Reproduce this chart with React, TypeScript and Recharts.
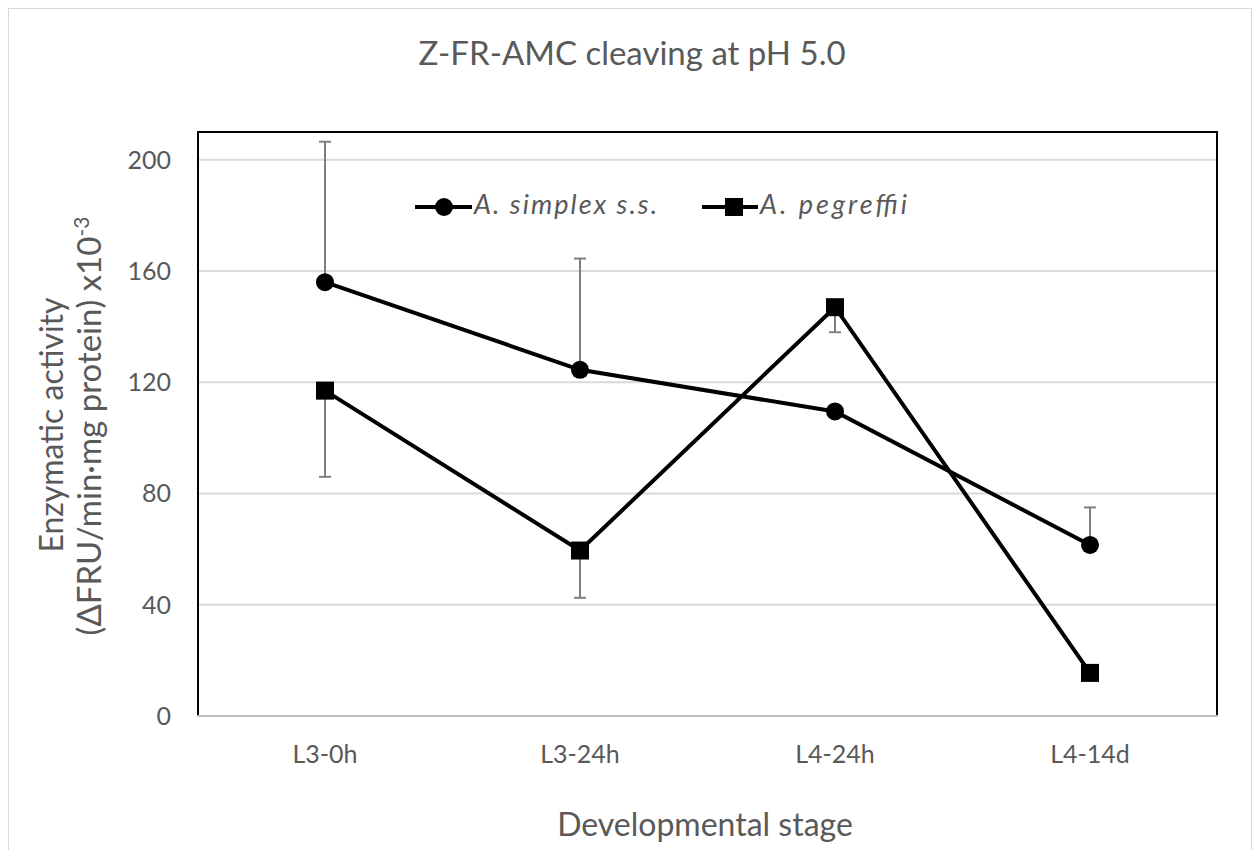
import { CartesianGrid, ErrorBar, Line, LineChart, XAxis, YAxis } from "recharts";

const stages = ["L3-0h", "L3-24h", "L4-24h", "L4-14d"];
const simplex = [156, 124.5, 109.5, 61.5];
const simplexErrUp = [50.5, 40, 0, 13.5];
const pegreffii = [117, 59.5, 147, 15.5];
const pegreffiiErrDown = [31, 17, 9, 0];
const yTicks = [0, 40, 80, 120, 160, 200];

const data = stages.map((stage, i) => ({
  stage,
  simplex: simplex[i],
  simplexErr: [0, simplexErrUp[i]],
  pegreffii: pegreffii[i],
  pegreffiiErr: [pegreffiiErrDown[i], 0],
}));

const FONT = "Lato, 'Open Sans', sans-serif";
const GRAY = "#595959";

function CircleDot(props: any) {
  const { cx, cy } = props;
  return <circle cx={cx} cy={cy} r={9} fill="#000" />;
}

function SquareDot(props: any) {
  const { cx, cy } = props;
  return <rect x={cx - 9} y={cy - 9} width={18} height={18} fill="#000" />;
}

// title, axis titles and legend drawn on top of the chart
function Overlay() {
  return (
    <svg
      width={1256}
      height={850}
      style={{ position: "absolute", left: 0, top: 0, pointerEvents: "none" }}
      fontFamily={FONT}
    >
      <rect x={8.5} y={8.5} width={1243} height={860} fill="none" stroke="#d9d9d9" />
      <rect x={198} y={132} width={1019} height={584} fill="none" stroke="#000" strokeWidth={2} />
      <line x1={197} y1={716} x2={1218} y2={716} stroke="#bfbfbf" strokeWidth={2} />
      <text x={632} y={65} textAnchor="middle" fontSize={33} fill={GRAY}>
        Z-FR-AMC cleaving at pH 5.0
      </text>
      <text x={705} y={836} textAnchor="middle" fontSize={32} fill={GRAY}>
        Developmental stage
      </text>
      <text transform="translate(63,425) rotate(-90)" textAnchor="middle" fontSize={32} fill={GRAY}>
        Enzymatic activity
      </text>
      <text transform="translate(101,426) rotate(-90)" textAnchor="middle" fontSize={33} fill={GRAY}>
        (ΔFRU/min·mg protein) x10
        <tspan dy={-12} fontSize={21}>-3</tspan>
      </text>
      <g>
        <line x1={415} y1={207} x2={472} y2={207} stroke="#000" strokeWidth={4} />
        <circle cx={444} cy={207} r={9} fill="#000" />
        <text x={474} y={214} fontSize={27} fontStyle="italic" fill={GRAY} textLength={183} lengthAdjust="spacing">
          A. simplex s.s.
        </text>
        <line x1={702} y1={207} x2={758} y2={207} stroke="#000" strokeWidth={4} />
        <rect x={725} y={198} width={18} height={18} fill="#000" />
        <text x={760} y={214} fontSize={27} fontStyle="italic" fill={GRAY} textLength={147} lengthAdjust="spacing">
          A. pegreffii
        </text>
      </g>
    </svg>
  );
}

export default function App() {
  return (
    <div style={{ position: "absolute", left: 0, top: 0, width: 1256, height: 850, background: "#fff" }}>
      <LineChart width={1256} height={850} data={data} margin={{ top: 132, right: 39, left: 138, bottom: 74 }}>
        <CartesianGrid vertical={false} stroke="#d9d9d9" strokeWidth={2} />
        <XAxis
          dataKey="stage"
          height={60}
          padding={{ left: 127, right: 127 }}
          axisLine={false}
          tickLine={false}
          tickSize={0}
          tickMargin={29}
          tick={{ fontSize: 25, fill: GRAY, fontFamily: FONT }}
        />
        <YAxis
          width={60}
          domain={[0, 210]}
          ticks={yTicks}
          axisLine={false}
          tickLine={false}
          tickSize={0}
          tickMargin={27}
          tick={{ fontSize: 25, fill: GRAY, fontFamily: FONT }}
        />
        <Line
          dataKey="simplex"
          name="A. simplex s.s."
          stroke="#000"
          strokeWidth={4}
          dot={<CircleDot />}
          activeDot={false}
          isAnimationActive={false}
        >
          <ErrorBar dataKey="simplexErr" direction="y" stroke="#7f7f7f" strokeWidth={2} width={6} />
        </Line>
        <Line
          dataKey="pegreffii"
          name="A. pegreffii"
          stroke="#000"
          strokeWidth={4}
          dot={<SquareDot />}
          activeDot={false}
          isAnimationActive={false}
        >
          <ErrorBar dataKey="pegreffiiErr" direction="y" stroke="#7f7f7f" strokeWidth={2} width={6} />
        </Line>
      </LineChart>
      <Overlay />
    </div>
  );
}
